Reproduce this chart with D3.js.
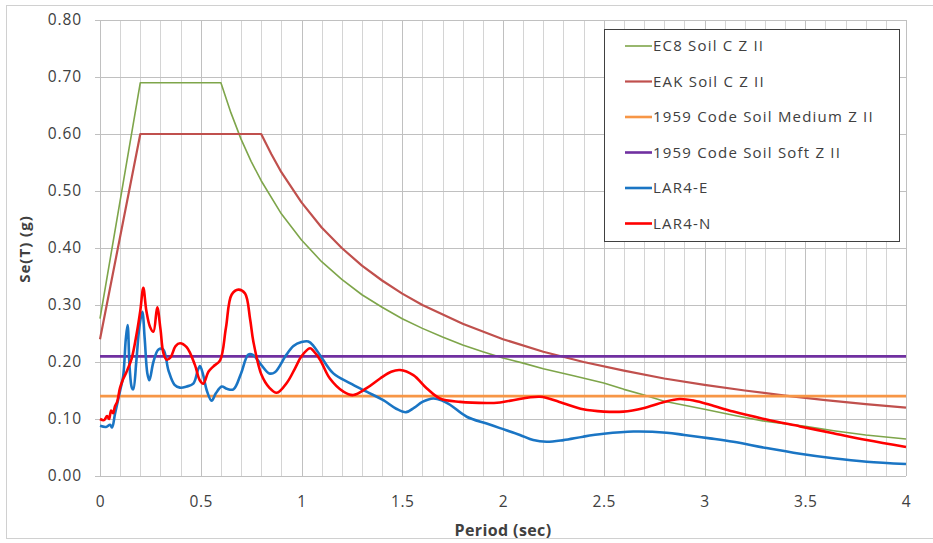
<!DOCTYPE html>
<html>
<head>
<meta charset="utf-8">
<script src="https://cdn.jsdelivr.net/npm/d3@7"></script>
<style>
  body { margin: 0; background: #fff; }
  text { font-family: "Open Sans", "Liberation Sans", sans-serif; fill: #404040; }
</style>
</head>
<body>
<div id="chart"></div>
<script>
var width = 933;
var height = 543;

// axis ticks
var periodTicks = [0, 0.5, 1, 1.5, 2, 2.5, 3, 3.5, 4];
var seTicks = [0, 0.1, 0.2, 0.3, 0.4, 0.5, 0.6, 0.7, 0.8];

var seriesNames = ['EC8 Soil C Z II', 'EAK Soil C Z II', '1959 Code Soil Medium Z II',
  '1959 Code Soil Soft Z II', 'LAR4-E', 'LAR4-N'];

// [period (sec), Se (g)]
var ec8 = [[0, 0.276], [0.2, 0.69], [0.6, 0.69], [0.65, 0.637], [0.7, 0.591], [0.75, 0.552],
  [0.8, 0.518], [0.9, 0.46], [1.0, 0.414], [1.1, 0.376], [1.2, 0.345], [1.3, 0.318],
  [1.4, 0.296], [1.5, 0.276], [1.6, 0.259], [1.7, 0.244], [1.8, 0.23], [1.9, 0.218],
  [2.0, 0.207], [2.1, 0.198], [2.2, 0.188], [2.35, 0.176], [2.5, 0.163], [2.6, 0.152],
  [2.7, 0.142], [2.8, 0.131], [3.0, 0.117], [3.15, 0.106], [3.3, 0.096], [3.5, 0.087],
  [3.65, 0.079], [3.8, 0.072], [4.0, 0.065]];

var eak = [[0, 0.24], [0.2, 0.6], [0.8, 0.6], [0.85, 0.565], [0.9, 0.533], [1.0, 0.48],
  [1.1, 0.436], [1.2, 0.4], [1.3, 0.369], [1.4, 0.343], [1.5, 0.32], [1.6, 0.3],
  [1.8, 0.267], [2.0, 0.24], [2.2, 0.218], [2.4, 0.2], [2.6, 0.185], [2.8, 0.171],
  [3.0, 0.16], [3.2, 0.15], [3.4, 0.141], [3.6, 0.133], [3.8, 0.126], [4.0, 0.12]];

var codeMedium = [[0, 0.14], [4, 0.14]];
var codeSoft = [[0, 0.21], [4, 0.21]];

var lar4E = [[0, 0.088], [0.03, 0.086], [0.05, 0.09], [0.06, 0.085], [0.075, 0.11],
  [0.1, 0.15], [0.115, 0.175], [0.128, 0.24], [0.137, 0.265], [0.147, 0.19], [0.158, 0.155],
  [0.165, 0.152], [0.18, 0.2], [0.195, 0.26], [0.21, 0.288], [0.222, 0.24], [0.235, 0.18],
  [0.245, 0.168], [0.265, 0.2], [0.29, 0.222], [0.314, 0.222], [0.34, 0.185], [0.37, 0.16],
  [0.397, 0.155], [0.43, 0.157], [0.463, 0.162], [0.485, 0.185], [0.496, 0.193],
  [0.51, 0.18], [0.53, 0.15], [0.554, 0.132], [0.575, 0.145], [0.604, 0.157],
  [0.63, 0.153], [0.662, 0.152], [0.7, 0.18], [0.736, 0.213], [0.761, 0.212], [0.8, 0.195],
  [0.84, 0.18], [0.868, 0.182], [0.92, 0.21], [0.96, 0.228], [1.0, 0.235], [1.034, 0.236],
  [1.06, 0.228], [1.092, 0.212], [1.158, 0.18], [1.24, 0.163], [1.323, 0.148],
  [1.406, 0.133], [1.47, 0.118], [1.519, 0.112], [1.56, 0.12], [1.6, 0.13], [1.654, 0.136],
  [1.7, 0.132], [1.737, 0.125], [1.82, 0.104], [1.919, 0.092], [1.985, 0.084],
  [2.084, 0.072], [2.15, 0.063], [2.217, 0.06], [2.3, 0.063], [2.398, 0.069], [2.5, 0.074],
  [2.647, 0.078], [2.812, 0.076], [2.9, 0.072], [3.027, 0.066], [3.143, 0.06],
  [3.308, 0.049], [3.474, 0.039], [3.639, 0.031], [3.805, 0.025], [4.0, 0.021]];

var lar4N = [[0, 0.1], [0.02, 0.098], [0.035, 0.105], [0.045, 0.1], [0.055, 0.115],
  [0.065, 0.11], [0.074, 0.122], [0.085, 0.13], [0.099, 0.154], [0.115, 0.17],
  [0.132, 0.183], [0.157, 0.206], [0.182, 0.25], [0.2, 0.29], [0.215, 0.33], [0.23, 0.29],
  [0.248, 0.262], [0.265, 0.253], [0.284, 0.296], [0.3, 0.258], [0.315, 0.215],
  [0.331, 0.204], [0.35, 0.208], [0.375, 0.228], [0.397, 0.233], [0.43, 0.226],
  [0.471, 0.195], [0.495, 0.168], [0.513, 0.162], [0.538, 0.183], [0.562, 0.192],
  [0.596, 0.203], [0.625, 0.26], [0.653, 0.318], [0.687, 0.327], [0.72, 0.32],
  [0.745, 0.275], [0.761, 0.236], [0.802, 0.177], [0.84, 0.155], [0.877, 0.146],
  [0.93, 0.165], [0.968, 0.189], [1.0, 0.21], [1.042, 0.224], [1.06, 0.219], [1.092, 0.204],
  [1.141, 0.171], [1.208, 0.148], [1.257, 0.142], [1.323, 0.154], [1.39, 0.171],
  [1.445, 0.183], [1.489, 0.186], [1.555, 0.177], [1.621, 0.154], [1.687, 0.136],
  [1.787, 0.13], [1.919, 0.128], [1.985, 0.129], [2.05, 0.133], [2.184, 0.139],
  [2.28, 0.13], [2.398, 0.117], [2.5, 0.113], [2.597, 0.113], [2.696, 0.119], [2.8, 0.13],
  [2.878, 0.135], [2.95, 0.132], [3.027, 0.125], [3.143, 0.113], [3.308, 0.099],
  [3.474, 0.087], [3.639, 0.075], [3.805, 0.063], [4.0, 0.051]];

var seriesData = [ec8, eak, codeMedium, codeSoft, lar4E, lar4N];
var seriesColors = ['#7ea54a', '#c0504d', '#f79646', '#7030a0', '#1a75c4', '#ff0000'];
var seriesWidths = [1.6, 2.2, 2.8, 2.8, 2.6, 2.6];
var seriesSmooth = [false, false, false, false, true, true];

var svg = d3.select('#chart')
  .append('svg')
  .attr('width', width)
  .attr('height', height)

// chart frame
svg.append('rect')
  .attr('x', 6.5).attr('y', 5.5)
  .attr('width', 960).attr('height', 533)
  .attr('fill', '#fff')
  .attr('stroke', '#d0d0d0')

var x = d3.scaleLinear().domain([0, 4]).range([100, 906]);
var y = d3.scaleLinear().domain([0, 0.8]).range([476, 20]);

// gridlines, every 0.1 sec and every 0.1 g
var grid = svg.append('g');
grid.selectAll('line.v')
  .data(d3.range(0, 41).map(i => i / 10))
  .enter()
  .append('line')
  .attr('class', 'v')
  .attr('x1', d => Math.round(x(d)) + 0.5)
  .attr('x2', d => Math.round(x(d)) + 0.5)
  .attr('y1', y(0.8))
  .attr('y2', y(0))
  .attr('stroke', (d, i) => i % 5 === 0 ? '#c0c0c0' : '#d4d4d4')

grid.selectAll('line.h')
  .data(seTicks)
  .enter()
  .append('line')
  .attr('class', 'h')
  .attr('x1', x(0) - 5)
  .attr('x2', x(4))
  .attr('y1', d => Math.round(y(d)) + 0.5)
  .attr('y2', d => Math.round(y(d)) + 0.5)
  .attr('stroke', '#c0c0c0')

// axes
var yAxis = svg.append('g')
  .attr('transform', 'translate(' + x(0) + ',0)')
  .call(d3.axisLeft(y).tickValues(seTicks).tickFormat(d3.format('.2f')).tickSize(0).tickPadding(18))
yAxis.select('.domain').remove();
yAxis.selectAll('text').style('font-size', '15.5px').style('letter-spacing', '0.9px').style('fill', '#404040');

var xAxis = svg.append('g')
  .attr('transform', 'translate(0,' + y(0) + ')')
  .call(d3.axisBottom(x).tickValues(periodTicks).tickFormat(d3.format('')).tickSize(0).tickPadding(20))
xAxis.select('.domain').remove();
xAxis.selectAll('text').style('font-size', '15.5px').style('letter-spacing', '0.6px').style('fill', '#404040');

svg.append('text')
  .attr('x', 503).attr('y', 536)
  .attr('text-anchor', 'middle')
  .style('font-size', '16px').style('font-weight', 'bold').style('letter-spacing', '0.4px')
  .text('Period (sec)')

svg.append('text')
  .attr('transform', 'translate(30,249) rotate(-90)')
  .attr('text-anchor', 'middle')
  .style('font-size', '15px').style('font-weight', 'bold').style('letter-spacing', '1px')
  .text('Se(T) (g)')

// series
var lineLinear = d3.line().x(d => x(d[0])).y(d => y(d[1]));
var lineSmooth = d3.line().x(d => x(d[0])).y(d => y(d[1])).curve(d3.curveCatmullRom.alpha(0.5));

svg.append('g')
  .selectAll('path')
  .data(seriesData)
  .enter()
  .append('path')
  .attr('d', (d, i) => seriesSmooth[i] ? lineSmooth(d) : lineLinear(d))
  .attr('fill', 'none')
  .attr('stroke', (d, i) => seriesColors[i])
  .attr('stroke-width', (d, i) => seriesWidths[i])
  .attr('stroke-linejoin', 'round')

// legend
var legend = svg.append('g');
legend.append('rect')
  .attr('x', 604.5).attr('y', 29.5)
  .attr('width', 295).attr('height', 212)
  .attr('fill', '#fff')
  .attr('stroke', '#404040')

var legendItems = legend.selectAll('g.item')
  .data(seriesNames)
  .enter()
  .append('g')
  .attr('class', 'item')
  .attr('transform', (d, i) => 'translate(625,' + (46 + i * 35.5) + ')')

legendItems.append('line')
  .attr('x1', 0).attr('x2', 27)
  .attr('stroke', (d, i) => seriesColors[i])
  .attr('stroke-width', (d, i) => Math.min(seriesWidths[i], 2.6))

legendItems.append('text')
  .attr('x', 28).attr('dy', '0.35em')
  .style('font-size', '15px')
  .style('letter-spacing', '1.2px')
  .text(d => d)
</script>
</body>
</html>
